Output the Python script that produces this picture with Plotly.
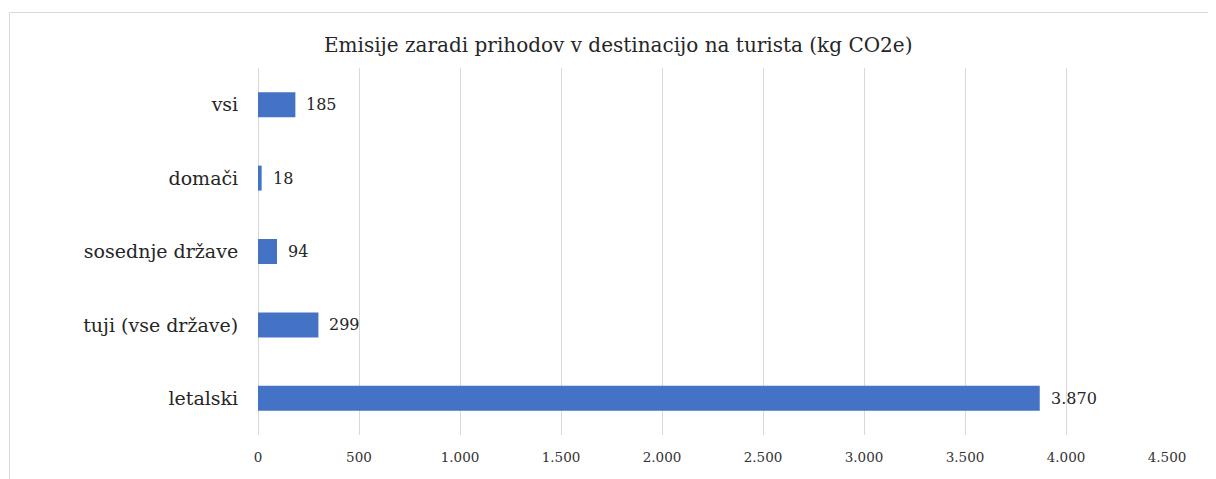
import plotly.graph_objects as go

categories = ["vsi", "domači", "sosednje države", "tuji (vse države)", "letalski"]
values = [185, 18, 94, 299, 3870]
tick_vals = [0, 500, 1000, 1500, 2000, 2500, 3000, 3500, 4000, 4500]

FONT = "DejaVu Serif"
OFF = 8  # page body margin of the html
W, H = 1216 - OFF, 479 - OFF
L, R, T, B = 258 - OFF, 49, 68 - OFF, 44
pw, ph = W - L - R, H - T - B

def px_x(p):
    return (p - OFF - L) / pw

def px_y(p):
    return (H - B - (p - OFF)) / ph

fig = go.Figure(go.Bar(
    x=values, y=categories, orientation="h",
    marker=dict(color="#4472C4", line=dict(width=0)),
    width=0.34, hoverinfo="x+y",
))

for c, v in zip(categories, values):
    fig.add_annotation(x=v, y=c, xref="x", yref="y", text=f"{v:,}".replace(",", "."),
                       showarrow=False, xanchor="left", xshift=9,
                       font=dict(family=FONT, size=16, color="#262626"))

fig.add_annotation(x=px_x(618), y=px_y(45), xref="paper", yref="paper",
                   text="Emisije zaradi prihodov v destinacijo na turista (kg CO2e)",
                   showarrow=False, xanchor="center", yanchor="middle",
                   font=dict(family=FONT, size=20, color="#262626"))

fig.add_shape(type="rect", xref="paper", yref="paper",
              x0=px_x(9.5), x1=px_x(1240), y0=px_y(12.5), y1=px_y(520),
              line=dict(color="#d9d9d9", width=1), fillcolor="rgba(0,0,0,0)", layer="below")

fig.update_layout(
    width=W, height=H,
    margin=dict(l=L, r=R, t=T, b=B, pad=0),
    paper_bgcolor="white", plot_bgcolor="white",
    separators=",.",
    showlegend=False,
    xaxis=dict(range=[0, 4500], tickvals=tick_vals, tickformat=",d",
               showgrid=True, gridcolor="#d9d9d9", gridwidth=1,
               zeroline=True, zerolinecolor="#d9d9d9", zerolinewidth=1,
               showline=False, ticks="outside", ticklen=10, tickcolor="rgba(0,0,0,0)",
               tickfont=dict(family=FONT, size=13.5, color="#333333"), fixedrange=True),
    yaxis=dict(autorange="reversed", showgrid=False, zeroline=False, showline=False,
               ticks="outside", ticklen=15, tickcolor="rgba(0,0,0,0)",
               tickfont=dict(family=FONT, size=19, color="#262626"), fixedrange=True),
)

fig.write_html("out.html")
